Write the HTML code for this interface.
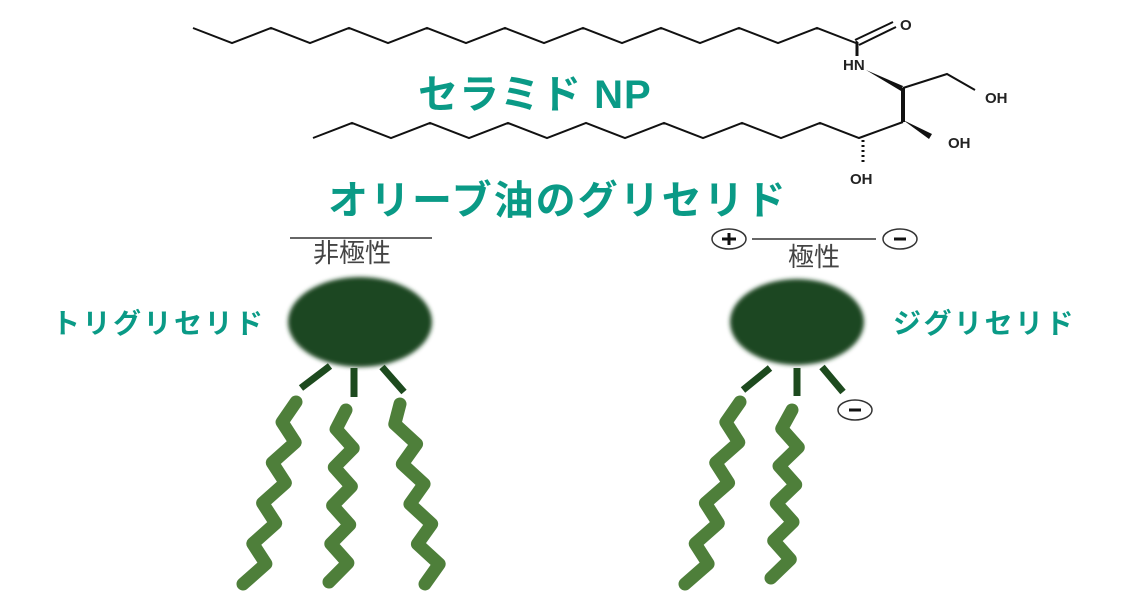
<!DOCTYPE html>
<html><head><meta charset="utf-8"><style>
html,body{margin:0;padding:0;background:#fff;width:1133px;height:604px;overflow:hidden}
svg text{font-family:"Liberation Sans","Noto Sans CJK JP",sans-serif}
</style></head><body>
<svg id="s" width="1133" height="604" viewBox="0 0 1133 604" xmlns="http://www.w3.org/2000/svg">
<defs><filter id="b" x="-20%" y="-20%" width="140%" height="140%"><feGaussianBlur stdDeviation="2"/></filter></defs>
<g fill="none" stroke="#111" stroke-width="2">
<polyline id="c1"/>
<polyline id="c2"/>
<line x1="857" y1="42" x2="857" y2="56" stroke-width="3"/>
<line x1="855" y1="40" x2="893" y2="22"/><line x1="859" y1="45" x2="896" y2="27"/>
<line x1="903" y1="88" x2="903" y2="122" stroke-width="4"/>
<polyline points="903,88 947,74 975,90"/>
<line x1="863" y1="140" x2="863" y2="165" stroke-width="3" stroke-dasharray="2,3"/>
</g>
<polygon points="866,70 903,86 901,91" fill="#111"/>
<polygon points="903,120 932,134 929,139" fill="#111"/>
<g font-size="15" font-weight="bold" fill="#222">
<text x="900" y="30">O</text><text x="843" y="70">HN</text>
<text x="985" y="103">OH</text><text x="948" y="148">OH</text><text x="850" y="184">OH</text>
</g>
<g fill="#0a9a86" font-weight="bold">
<text x="418" y="108" font-size="40" letter-spacing="1">セラミド NP</text>
<text x="328" y="214" font-size="40" letter-spacing="2">オリーブ油のグリセリド</text>
<text x="52" y="333" font-size="28" letter-spacing="2.5">トリグリセリド</text>
<text x="893" y="333" font-size="28" letter-spacing="2.5">ジグリセリド</text>
</g>
<g fill="#444" font-size="26">
<text x="313" y="262">非極性</text><text x="788" y="266">極性</text>
</g>
<line x1="290" y1="238" x2="432" y2="238" stroke="#333" stroke-width="1.5"/>
<line x1="752" y1="239" x2="876" y2="239" stroke="#333" stroke-width="1.5"/>
<g fill="#fff" stroke="#333" stroke-width="1.5">
<ellipse cx="729" cy="239" rx="17" ry="10"/><ellipse cx="900" cy="239" rx="17" ry="10"/><ellipse cx="855" cy="410" rx="17" ry="10"/>
</g>
<g stroke="#111" stroke-width="3"><line x1="722" y1="239" x2="736" y2="239"/><line x1="729" y1="233" x2="729" y2="245"/>
<line x1="894" y1="239" x2="906" y2="239"/><line x1="849" y1="410" x2="861" y2="410"/></g>
<ellipse cx="360" cy="322" rx="72" ry="45" fill="#1f4620" filter="url(#b)"/>
<ellipse cx="797" cy="322" rx="67" ry="43" fill="#1f4620" filter="url(#b)"/>
<g stroke="#1d4a1e" stroke-width="7">
<line x1="330" y1="366" x2="301" y2="388"/><line x1="354" y1="368" x2="354" y2="397"/><line x1="382" y1="367" x2="404" y2="392"/>
<line x1="770" y1="368" x2="743" y2="390"/><line x1="797" y1="368" x2="797" y2="396"/><line x1="822" y1="367" x2="843" y2="392"/>
</g>
<g id="tails" fill="none" stroke="#4e7f3a" stroke-width="13" stroke-linejoin="round" stroke-linecap="round"></g>
</svg>
<script>
function chain(x0,y0,yl,end){var p=[x0+','+y0],x=x0,cur=y0,step=39;
 while(x+step<=end+1){x+=step;cur=(cur==y0)?yl:y0;p.push(x+','+cur);}return p.join(' ');}
document.getElementById('c1').setAttribute('points',chain(193,28,43,857)+' 857,41');
document.getElementById('c2').setAttribute('points',chain(313,138,123,863)+' 903,122');
function tail(x0,y0,x1,y1){var n=9,p=[];for(var i=0;i<=n;i++){var t=i/n;var x=x0+(x1-x0)*t+(i==0?0:((i%2)?-9:9));var y=y0+(y1-y0)*t;p.push(x.toFixed(1)+','+y.toFixed(1));}
 var e=document.createElementNS('http://www.w3.org/2000/svg','polyline');e.setAttribute('points',p.join(' '));document.getElementById('tails').appendChild(e);}
tail(296,402,252,584);tail(346,410,338,582);tail(400,404,434,584);
tail(740,402,694,584);tail(792,410,780,578);
</script>
</body></html>
